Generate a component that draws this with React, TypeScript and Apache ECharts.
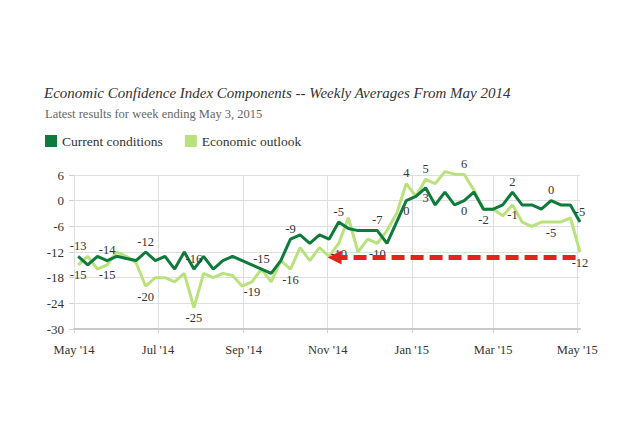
import React, { useEffect, useRef } from "react";
import * as echarts from "echarts";

const FONT = "'Liberation Serif', serif";

// Week-ending dates: first week ends May 4, 2014; 53 weekly points to May 3, 2015
const firstWeek = [2014, 4, 4];
const weekCount = 53;

const currentConditions = [
  -13, -15, -13, -14, -13, -13.5, -14, -12, -14, -13,
  -16, -12, -16, -13, -16, -14, -13, -14, -15, -16,
  -17, -14, -9, -8, -10, -8, -9, -5, -6.5, -7,
  -7, -7, -10, -5, 0, 1, 3, -1, 2, -1,
  0, 2, -2, -2, -1, 2, -1, -1, -2, 0,
  -1, -1, -5,
];

const economicOutlook = [
  -15, -13, -16, -15, -12, -13, -14.5, -20, -18, -18,
  -19, -17, -25, -17, -18, -17, -17.5, -20, -19, -16,
  -19, -14, -16, -11, -14, -11, -13, -10, -4, -12,
  -9, -10, -7, -3, 4, 1, 5, 4, 6.8, 6.2,
  6.1, 2.5, -2, -2, -3.5, -1, -5, -6, -5, -5,
  -5, -4, -12,
];

const currentLabelIdx = [0, 3, 7, 12, 19, 22, 27, 31, 34, 36, 40, 45, 49, 52];
const currentLabelText = ["-13", "-14", "-12", "-16", "-15", "-9", "-5", "-7", "0", "3", "0", "2", "0", "-5"];
const currentLabelPos = ["top", "top", "top", "top", "top", "top", "top", "top", "bottom", "bottom", "bottom", "top", "top", "top"];

const outlookLabelIdx = [0, 3, 7, 12, 18, 22, 27, 31, 34, 36, 40, 42, 45, 49, 52];
const outlookLabelText = ["-15", "-15", "-20", "-25", "-19", "-16", "-10", "-10", "4", "5", "6", "-2", "-1", "-5", "-12"];
const outlookLabelPos = ["bottom", "bottom", "bottom", "bottom", "bottom", "bottom", "bottom", "bottom", "top", "top", "top", "bottom", "bottom", "bottom", "bottom"];

const tickDates = [
  [2014, 5, 1], [2014, 7, 1], [2014, 9, 1], [2014, 11, 1],
  [2015, 1, 1], [2015, 3, 1], [2015, 5, 1],
];
const monthNames = ["Jan", "Feb", "Mar", "Apr", "May", "Jun", "Jul", "Aug", "Sep", "Oct", "Nov", "Dec"];

const axisMin = [2014, 5, 1];
const axisMax = [2015, 5, 3];
const arrowStart = [2014, 11, 6];
const arrowEnd = [2015, 5, 3];
const arrowLevel = -13.3;

const ts = (d: number[]) => new Date(d[0], d[1] - 1, d[2]).getTime();

const DARK = "#0e7a3b";
const LIGHT = "#b9e27c";

function buildSeriesData(values: number[], idx: number[], text: string[], pos: string[]) {
  const start = new Date(firstWeek[0], firstWeek[1], firstWeek[2]).getTime();
  return values.slice(0, weekCount).map((v, i) => {
    const t = start + i * 7 * 86400000;
    const k = idx.indexOf(i);
    if (k >= 0) {
      return {
        value: [t, v],
        label: { show: true, position: pos[k], formatter: text[k] },
      };
    }
    return { value: [t, v] };
  });
}

export default function App() {
  const ref = useRef<HTMLDivElement>(null);
  useEffect(() => {
    if (!ref.current) return;
    const chart = echarts.init(ref.current, null, { renderer: "svg" });
    const labelStyle = {
      show: false,
      color: "#333",
      fontFamily: FONT,
      fontSize: 12.5,
      distance: 4,
    };
    chart.setOption({
      animation: false,
      backgroundColor: "#ffffff",
      textStyle: { fontFamily: FONT },
      title: [
        {
          text: "Economic Confidence Index Components -- Weekly Averages From May 2014",
          left: 44,
          top: 85,
          padding: 0,
          textStyle: { fontFamily: FONT, fontStyle: "italic", fontWeight: "normal", fontSize: 15, color: "#333" },
        },
        {
          text: "Latest results for week ending May 3, 2015",
          left: 45,
          top: 107,
          padding: 0,
          textStyle: { fontFamily: FONT, fontWeight: "normal", fontSize: 12.5, color: "#666" },
        },
      ],
      legend: {
        left: 45,
        top: 134,
        padding: 0,
        icon: "rect",
        itemWidth: 12,
        itemHeight: 12,
        itemGap: 22,
        data: ["Current conditions", "Economic outlook"],
        textStyle: { fontFamily: FONT, fontSize: 13.5, color: "#333" },
      },
      grid: { left: 74, right: 60, top: 175, bottom: 107 },
      xAxis: {
        type: "value",
        min: ts(axisMin),
        max: ts(axisMax),
        axisLine: { show: true, onZero: false, lineStyle: { color: "#c8c8c8", width: 2 } },
        axisTick: { show: true, length: 4, lineStyle: { color: "#cfcfcf" }, customValues: tickDates.map(ts) },
        axisLabel: {
          customValues: tickDates.map(ts),
          fontFamily: FONT,
          fontSize: 12.5,
          color: "#333",
          margin: 14,
          showMinLabel: true,
          showMaxLabel: true,
          formatter: (v: number) => {
            const d = new Date(v);
            return monthNames[d.getMonth()] + " '" + String(d.getFullYear()).slice(2);
          },
        },
        splitLine: { show: true, lineStyle: { color: "#dedede", width: 1 } },
      },
      yAxis: {
        type: "value",
        min: -30,
        max: 6,
        interval: 6,
        axisLine: { show: true, lineStyle: { color: "#dedede" } },
        axisTick: { show: true, length: 5, lineStyle: { color: "#cfcfcf" } },
        axisLabel: { fontFamily: FONT, fontSize: 13, color: "#333", margin: 10 },
        splitLine: { show: true, lineStyle: { color: "#dedede", width: 1 } },
      },
      series: [
        {
          name: "Current conditions",
          type: "line",
          z: 4,
          clip: false,
          data: buildSeriesData(currentConditions, currentLabelIdx, currentLabelText, currentLabelPos),
          showSymbol: true,
          showAllSymbol: true,
          symbol: "circle",
          symbolSize: 0,
          itemStyle: { color: DARK },
          lineStyle: { color: DARK, width: 3 },
          label: labelStyle,
        },
        {
          name: "Economic outlook",
          type: "line",
          z: 3,
          clip: false,
          data: buildSeriesData(economicOutlook, outlookLabelIdx, outlookLabelText, outlookLabelPos),
          showSymbol: true,
          showAllSymbol: true,
          symbol: "circle",
          symbolSize: 0,
          itemStyle: { color: LIGHT },
          lineStyle: { color: LIGHT, width: 3 },
          label: labelStyle,
        },
        {
          name: "arrow",
          type: "line",
          z: 10,
          data: [],
          markLine: {
            silent: true,
            symbol: ["triangle", "none"],
            symbolSize: 14,
            label: { show: false },
            lineStyle: { color: "#e5231d", width: 5, type: [13, 6], opacity: 1 },
            data: [[{ coord: [ts(arrowStart), arrowLevel] }, { coord: [ts(arrowEnd), arrowLevel] }]],
          },
        },
      ],
    });
    return () => chart.dispose();
  }, []);
  return (
    <div
      ref={ref}
      style={{ position: "fixed", left: 0, top: 0, width: 640, height: 436, background: "#fff" }}
    />
  );
}
